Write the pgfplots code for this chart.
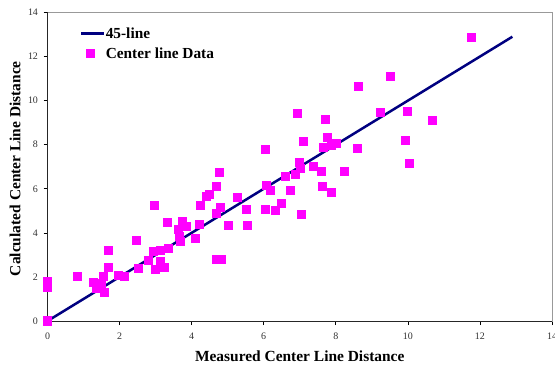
\documentclass[border=0pt]{standalone}
\usepackage{fontspec}
\setmainfont{Liberation Serif}
\usepackage{pgfplots}
\pgfplotsset{compat=1.18}
\definecolor{navyline}{HTML}{000080}
\definecolor{magpt}{HTML}{FF00FF}
\pgfplotsset{
  mylinelegend/.style={legend image code/.code={\draw[##1] (0bp,0bp) -- (23bp,0bp);}},
  mymarklegend/.style={legend image code/.code={\draw[##1] plot coordinates {(9bp,0bp)};}},
}
\begin{document}
\begin{tikzpicture}
\useasboundingbox (0,0) rectangle (555bp,365bp);
\begin{axis}[
  at={(47.5bp,44bp)}, anchor=south west,
  scale only axis, width=504.5bp, height=308.5bp,
  xmin=0, xmax=14, ymin=0, ymax=14,
  xtick={0,2,...,14}, ytick={0,2,...,14},
  tick align=outside, xtick pos=bottom, ytick pos=left,
  major tick length=4bp,
  tick style={black, line width=0.6bp},
  axis line style={draw=gray!80, line width=0.8bp},
  /pgf/number format/assume math mode=true,
  tick label style={font=\fontsize{10}{12}\selectfont, text=black!80},
  xticklabel style={yshift=-4bp},
  yticklabel style={xshift=-2bp},
  clip=false,
  xlabel={Measured Center Line Distance},
  ylabel={Calculated Center Line Distance},
  label style={font=\fontsize{15.5}{18}\selectfont\bfseries},
  xlabel style={at={(axis description cs:0.5,-0.1135)}, anchor=center},
  ylabel style={at={(axis description cs:-0.0644,0.494)}, anchor=center, rotate=0},
  legend style={at={(axis description cs:0.064,0.958)}, anchor=north west, draw=none, fill=none,
    font=\fontsize{15.4}{16}\selectfont\bfseries, inner xsep=0pt, inner ysep=0pt, row sep=4bp,
    nodes={inner xsep=0.3bp}},
  legend cell align=left,
]
\addplot[navyline, line width=2.5bp, mylinelegend]
  coordinates {(0,0) (12.9,12.9)};
\addlegendentry{45-line}
\addplot[only marks, mark=square*, mark size=4bp, mark options={draw=magpt, fill=magpt, line width=0pt}, mymarklegend]
  coordinates {
(0,0) (0,1.8) (0,1.5) (0.83,2.04) (1.27,1.74) (1.37,1.48) (1.5,1.7) (1.55,2.04)
(1.57,1.28) (1.69,3.19) (1.69,2.42) (1.97,2.07) (2.15,2.04) (2.46,3.67) (2.52,2.39)
(2.8,2.73) (2.96,5.22) (2.94,3.14) (3.01,2.34) (3.13,2.69) (3.14,3.19) (3.24,2.43)
(3.33,4.48) (3.36,3.3) (3.63,4.16) (3.66,3.82) (3.68,3.63) (3.76,4.5) (3.87,4.31)
(4.1,3.75) (4.22,4.4) (4.24,5.26) (4.4,5.67) (4.5,5.76) (4.68,6.12) (4.77,6.72)
(4.68,4.88) (4.81,5.16) (4.7,2.8) (4.84,2.8) (5.02,4.35) (5.27,5.61) (5.51,5.07)
(5.56,4.35) (6.07,6.17) (6.04,5.07) (6.2,5.94) (6.32,5.03) (6.48,5.31) (6.06,7.8)
(6.6,6.58) (6.74,5.9) (6.88,6.67) (6.94,9.42) (6.99,7.18) (7.01,6.92) (7.06,4.85)
(7.11,8.13) (7.38,7.0) (7.59,6.8) (7.64,6.12) (7.66,7.88) (7.72,9.16) (7.78,8.33)
(7.89,7.95) (7.89,5.84) (8.03,8.06) (8.24,6.8) (8.6,7.83) (8.62,10.66) (9.25,9.46)
(9.51,11.08) (9.93,8.21) (10.0,9.52) (10.05,7.15) (10.67,9.12) (11.76,12.87)
  };
\addlegendentry{Center line Data}
\draw[black!85, line width=0.8bp] (rel axis cs:0,1) -- (rel axis cs:0,0) -- (rel axis cs:1,0);
\end{axis}
\end{tikzpicture}
\end{document}
